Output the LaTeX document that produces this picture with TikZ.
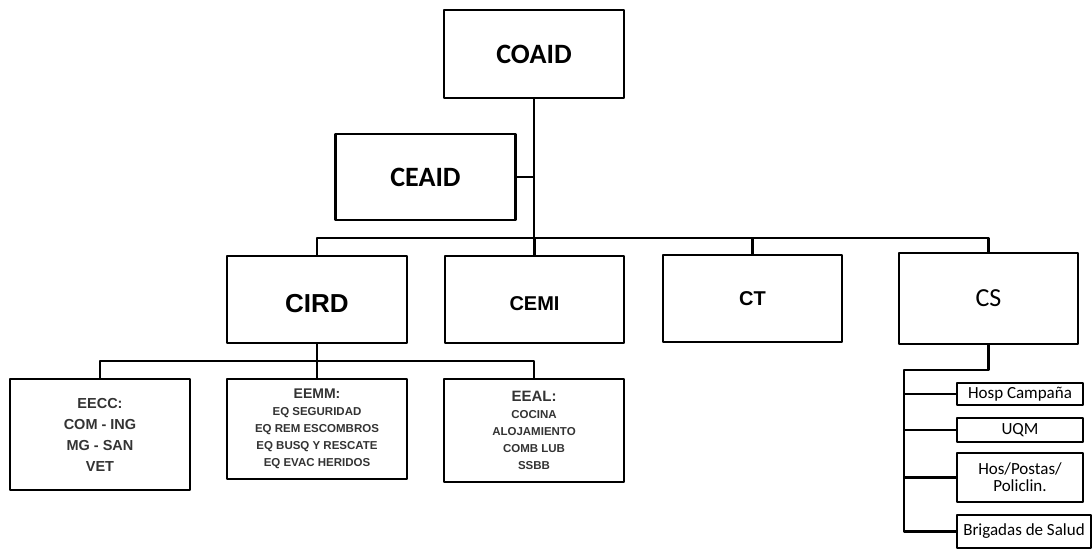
\documentclass[tikz,border=0pt]{standalone}
\usepackage{fontspec}
\setmainfont{Liberation Sans}
\newfontfamily\calib{Carlito}
\begin{document}
\begin{tikzpicture}[x=1pt,y=-1pt,line join=round,
  box/.style={draw,line width=2.6pt,inner sep=0pt,minimum width=180pt,minimum height=87pt,align=center},
  sbox/.style={draw,line width=2.4pt,inner sep=0pt,minimum width=126pt,align=center,font=\calib\fontsize{17}{17}\selectfont},
  link/.style={line width=2.4pt}]
  \useasboundingbox (0,0) rectangle (1092,550);
  \node[box,minimum height=88pt,font=\calib\bfseries\fontsize{28}{30}\selectfont] (coaid) at (534,54) {COAID};
  \node[box,minimum height=86pt,font=\calib\bfseries\fontsize{28}{30}\selectfont] (ceaid) at (425.5,177) {CEAID};
  \node[box,font=\bfseries\fontsize{26}{28}\selectfont,text height=26.5pt,text depth=0pt] (cird) at (317,299.5) {CIRD};
  \node[box,minimum width=179pt,font=\bfseries\fontsize{20}{22}\selectfont,text height=22pt,text depth=0pt] (cemi) at (534.5,299.5) {CEMI};
  \node[box,minimum width=179pt,font=\bfseries\fontsize{20}{22}\selectfont] (ct) at (752.5,298.5) {CT};
  \node[box,minimum width=179pt,minimum height=91pt,font=\calib\fontsize{26}{28}\selectfont] (cs) at (988.5,298.5) {CS};
  \node[box,minimum height=111pt,text=black!80,font=\bfseries\fontsize{14.5}{21}\selectfont] (eecc) at (100,434.5) {EECC:\\COM - ING\\MG - SAN\\VET};
  \node[box,minimum height=100pt,text=black!80,font=\bfseries\fontsize{11.5}{17}\selectfont] (eemm) at (317,429) {{\fontsize{14}{17}\selectfont EEMM:}\\EQ SEGURIDAD\\EQ REM ESCOMBROS\\EQ BUSQ Y RESCATE\\EQ EVAC HERIDOS};
  \node[box,minimum height=103pt,text=black!80,font=\bfseries\fontsize{11.5}{17}\selectfont] (eeal) at (534,430.5) {{\fontsize{15}{17}\selectfont EEAL:}\\COCINA\\ALOJAMIENTO\\COMB LUB\\SSBB};
  \foreach \n/\y/\h/\t in {hosp/394/22/Hosp Campaña,uqm/430/24/UQM,hos/477.5/49/{Hos/Postas/\\Policlin.}}{
    \node[sbox,minimum height=\h pt] (\n) at (1020,\y) {\t};
  }
  \node[sbox,minimum width=134pt,minimum height=33pt] (brig) at (1024,531.5) {Brigadas de Salud};
  \coordinate (bar) at (534,238);
  \coordinate (sub) at (317,361);
  \coordinate (csbar) at (904,370);
  \draw[link] (coaid.south) -- (bar);
  \draw[link] (ceaid.east) -- (ceaid.east -| bar);
  \draw[link] (cird.north) |- (bar) -| (cs.north);
  \foreach \n in {cemi,ct}{
    \draw[link] (\n.north) -- (\n.north |- bar);
  }
  \draw[link] (cird.south) -- (sub);
  \draw[link] (eecc.north) |- (sub) -| (eeal.north);
  \draw[link] (eemm.north) -- (eemm.north |- sub);
  \draw[link] (cs.south) |- (csbar) |- (brig.west);
  \foreach \n in {hosp,uqm,hos}{
    \draw[link] (csbar |- \n.west) -- (\n.west);
  }
\end{tikzpicture}
\end{document}
